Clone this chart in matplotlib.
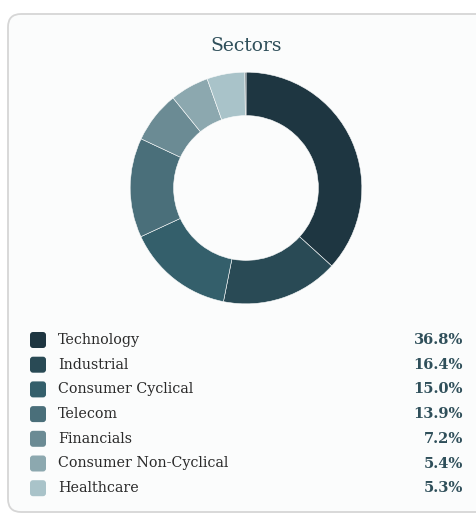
import matplotlib.pyplot as plt
from matplotlib.patches import FancyBboxPatch

sectors = ["Technology", "Industrial", "Consumer Cyclical", "Telecom",
           "Financials", "Consumer Non-Cyclical", "Healthcare"]
weights = [36.8, 16.4, 15.0, 13.9, 7.2, 5.4, 5.3]
colors = ["#1e3641", "#294a55", "#345f6b", "#4a6f7a", "#6b8b94", "#8ca8af", "#a9c3c9"]
# tiny unlabeled sliver visible at 12 o'clock
other_weight = 0.15
other_color = "#3a4a50"

W, H = 477, 514
fig = plt.figure(figsize=(W / 100, H / 100), dpi=100)
fig.patch.set_facecolor("white")

bg = fig.add_axes([0, 0, 1, 1])
bg.set_xlim(0, W)
bg.set_ylim(H, 0)
bg.axis("off")

card = FancyBboxPatch((8, 14), 490, 498, boxstyle="round,pad=0,rounding_size=13",
                      facecolor="#fbfcfc", edgecolor="#d6d6d6", linewidth=1.3)
bg.add_patch(card)

serif = ["DejaVu Serif"]
bg.text(246, 46, "Sectors", ha="center", va="center", fontsize=13.5,
        color="#2f4f5a", family=serif)

# legend rows
y0, dy = 340, 24.7
for i, (name, w, c) in enumerate(zip(sectors, weights, colors)):
    y = y0 + i * dy
    sw = FancyBboxPatch((30, y - 8), 16, 16, boxstyle="round,pad=0,rounding_size=3",
                        facecolor=c, edgecolor="none")
    bg.add_patch(sw)
    bg.text(58, y, name, ha="left", va="center", fontsize=10.3,
            color="#2a2a2a", family=serif)
    bg.text(463, y, f"{w:.1f}%", ha="right", va="center", fontsize=10.5,
            fontweight="bold", color="#2f4f5a", family=serif)

# donut
cx, cy, r = 246, 188, 117
ax = fig.add_axes([(cx - r) / W, 1 - (cy + r) / H, 2 * r / W, 2 * r / H])
ax.pie(weights + [other_weight], colors=colors + [other_color], startangle=90,
       counterclock=False, radius=1,
       wedgeprops=dict(width=0.375, edgecolor="#fbfcfc", linewidth=0.4))
ax.set_xlim(-1.01, 1.01)
ax.set_ylim(-1.01, 1.01)
ax.set_aspect("equal")

fig.savefig("out.png", dpi=100, facecolor="white")
